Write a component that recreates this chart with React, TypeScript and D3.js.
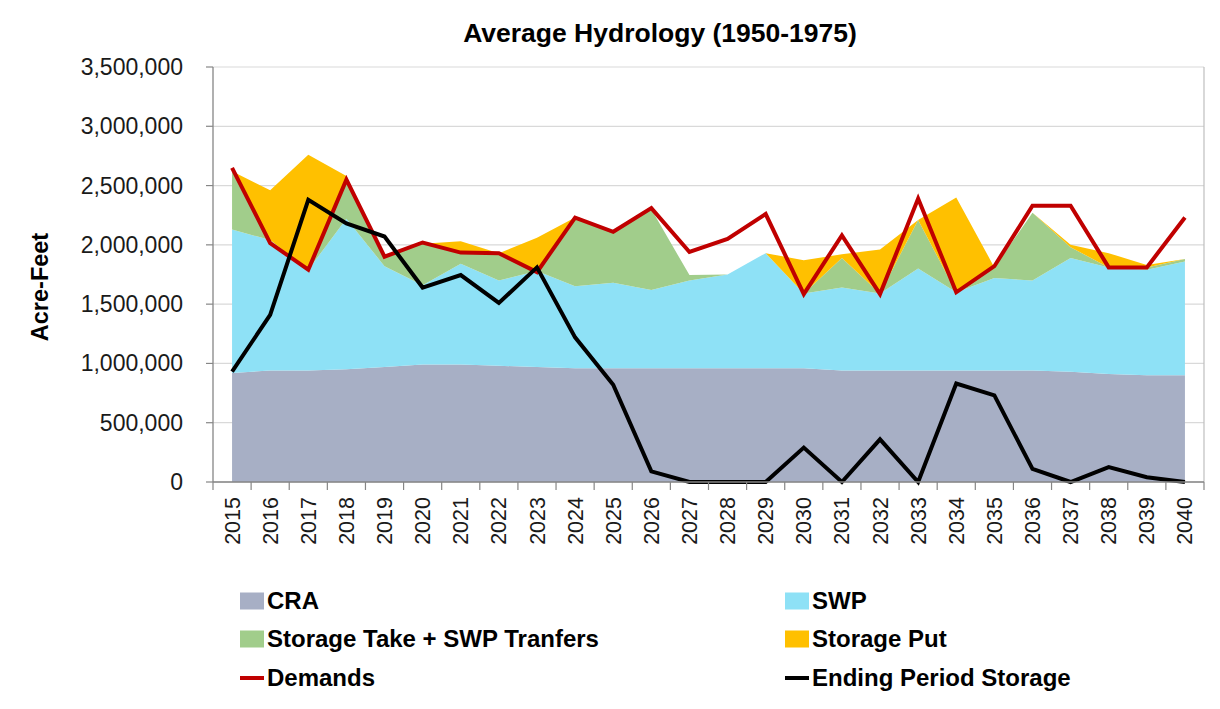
import React from "react";
import * as d3 from "d3";

const years = [2015,2016,2017,2018,2019,2020,2021,2022,2023,2024,2025,2026,2027,2028,2029,2030,2031,2032,2033,2034,2035,2036,2037,2038,2039,2040];
// values in acre-feet
const cra = [920000,940000,940000,950000,970000,990000,990000,980000,970000,960000,960000,960000,960000,960000,960000,960000,940000,940000,940000,940000,940000,940000,930000,910000,900000,900000];
const swp = [1210000,1100000,850000,1270000,850000,670000,850000,720000,810000,690000,720000,660000,740000,790000,970000,630000,700000,650000,860000,660000,780000,760000,960000,900000,890000,960000];
const storageTake = [490000,0,0,330000,80000,350000,90000,230000,0,580000,430000,680000,45000,0,0,0,250000,0,410000,0,90000,570000,90000,0,20000,20000];
const storagePut = [0,420000,970000,30000,0,0,100000,0,280000,0,0,0,0,0,0,280000,30000,370000,0,800000,0,0,20000,120000,20000,0];
const demands = [2650000,2015000,1790000,2550000,1900000,2020000,1935000,1930000,1770000,2230000,2110000,2310000,1940000,2050000,2260000,1585000,2080000,1585000,2390000,1600000,1820000,2330000,2330000,1810000,1810000,2230000];
const endingStorage = [930000,1410000,2380000,2180000,2070000,1640000,1745000,1510000,1810000,1220000,820000,90000,0,0,0,290000,0,360000,0,830000,730000,110000,0,125000,40000,0];
const yTicks = [0,500000,1000000,1500000,2000000,2500000,3000000,3500000];

const seriesKeys = ["cra","swp","take","put"];
const seriesColors: Record<string,string> = { cra: "#a7afc5", swp: "#8ee1f6", take: "#a1cd8b", put: "#ffc000" };

const W = 1220, H = 709;
const L = 213, R = 1204, T = 67, B = 482;
const FONT = "'Liberation Sans', Arial, sans-serif";

export default function App() {
  const x = d3.scaleBand<number>().domain(years).range([L, R]);
  const cx = (yr: number) => (x(yr) as number) + x.bandwidth() / 2;
  const y = d3.scaleLinear().domain([0, 3500000]).range([B, T]);

  const table = years.map((yr, i) => ({ year: yr, cra: cra[i], swp: swp[i], take: storageTake[i], put: storagePut[i] }));
  const stacked = d3.stack<any>().keys(seriesKeys)(table);
  const area = d3.area<any>().x((d) => cx(d.data.year)).y0((d) => y(d[0])).y1((d) => y(d[1]));
  const lineGen = d3.line<number>().x((_, i) => cx(years[i])).y((v) => y(v));

  const fmt = d3.format(",");
  const boundaries = years.map((yr) => x(yr) as number).concat([R]);

  const legend = [
    { label: "CRA", type: "rect", color: seriesColors.cra, col: 0, row: 0 },
    { label: "SWP", type: "rect", color: seriesColors.swp, col: 1, row: 0 },
    { label: "Storage Take + SWP Tranfers", type: "rect", color: seriesColors.take, col: 0, row: 1 },
    { label: "Storage Put", type: "rect", color: seriesColors.put, col: 1, row: 1 },
    { label: "Demands", type: "line", color: "#c00000", col: 0, row: 2 },
    { label: "Ending Period Storage", type: "line", color: "#000000", col: 1, row: 2 },
  ];
  const colX = [240, 785];
  const rowY = [601, 639, 678];

  return (
    <svg width={W} height={H} style={{ display: "block", position: "absolute", left: 0, top: 0 }} fontFamily={FONT}>
      <rect width={W} height={H} fill="#ffffff" />
      <text x={660} y={42} textAnchor="middle" fontWeight="bold" fontSize={26.5} fill="#000">Average Hydrology (1950-1975)</text>

      {yTicks.map((t) => (
        <line key={"g" + t} x1={L} x2={R} y1={y(t)} y2={y(t)} stroke="#d9d9d9" strokeWidth={1.2} />
      ))}
      <line x1={R} x2={R} y1={T} y2={B} stroke="#bfbfbf" strokeWidth={1.2} />

      {stacked.map((s) => (
        <path key={s.key} d={area(s) || ""} fill={seriesColors[s.key]} />
      ))}

      <path d={lineGen(demands) || ""} fill="none" stroke="#c00000" strokeWidth={4} strokeLinejoin="miter" />
      <path d={lineGen(endingStorage) || ""} fill="none" stroke="#000000" strokeWidth={4} strokeLinejoin="miter" />

      <line x1={L} x2={L} y1={T} y2={B} stroke="#868686" strokeWidth={1.3} />
      <line x1={L} x2={R} y1={B} y2={B} stroke="#868686" strokeWidth={1.3} />
      {yTicks.map((t) => (
        <g key={"yt" + t}>
          <line x1={L - 7} x2={L} y1={y(t)} y2={y(t)} stroke="#868686" strokeWidth={1.2} />
          <text x={183} y={y(t)} dy="0.35em" textAnchor="end" fontSize={23} fill="#1a1a1a">{fmt(t)}</text>
        </g>
      ))}
      {boundaries.map((b, i) => (
        <line key={"xt" + i} x1={b} x2={b} y1={B} y2={B + 8} stroke="#868686" strokeWidth={1.2} />
      ))}
      {years.map((yr) => (
        <text key={"xl" + yr} transform={`translate(${cx(yr)},${B + 15}) rotate(-90)`} dy="0.35em" textAnchor="end" fontSize={21.5} fill="#1a1a1a">{yr}</text>
      ))}

      <text transform={`translate(40,287) rotate(-90)`} dy="0.35em" textAnchor="middle" fontWeight="bold" fontSize={23.5} fill="#000">Acre-Feet</text>

      {legend.map((l) => (
        <g key={l.label}>
          {l.type === "rect" ? (
            <rect x={colX[l.col]} y={rowY[l.row] - 8.5} width={24} height={17} fill={l.color} />
          ) : (
            <line x1={colX[l.col]} x2={colX[l.col] + 24} y1={rowY[l.row]} y2={rowY[l.row]} stroke={l.color} strokeWidth={4} />
          )}
          <text x={colX[l.col] + 27} y={rowY[l.row]} dy="0.35em" fontWeight="bold" fontSize={24} fill="#000">{l.label}</text>
        </g>
      ))}
    </svg>
  );
}
